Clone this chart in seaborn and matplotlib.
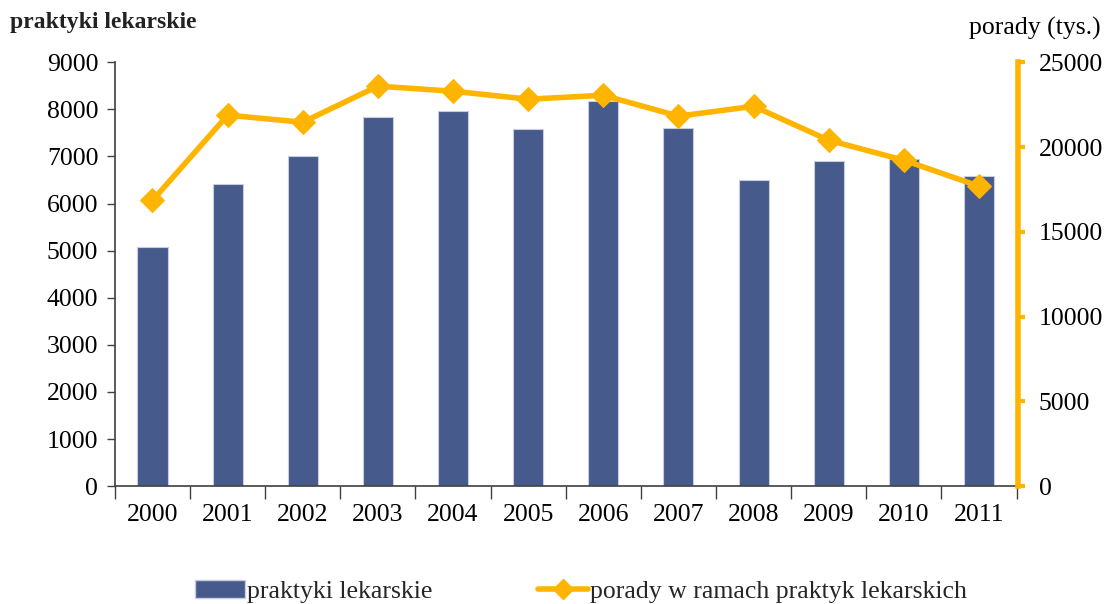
import numpy as np
import pandas as pd
import matplotlib
matplotlib.use("Agg")
import matplotlib.pyplot as plt
import seaborn as sns
from matplotlib.lines import Line2D
from matplotlib.patches import Patch

years = ["2000", "2001", "2002", "2003", "2004", "2005",
         "2006", "2007", "2008", "2009", "2010", "2011"]
praktyki = [5070, 6410, 7000, 7830, 7970, 7590, 8170, 7600, 6500, 6910, 6940, 6590]
porady = [16850, 21880, 21460, 23590, 23290, 22820, 23050, 21820, 22400, 20400, 19220, 17690]

bar_color = "#465A8C"
line_color = "#FFB500"
axis_color = "#404040"
fs = 18.5

sns.set_theme(style="white")
plt.rcParams["font.family"] = ["Liberation Serif", "DejaVu Serif"]

df = pd.DataFrame({"rok": years, "praktyki": praktyki, "porady": porady})

fig = plt.figure(figsize=(11.05, 6.04), dpi=100)
ax = fig.add_axes([0.104, 0.195, 0.816, 0.702])

sns.barplot(data=df, x="rok", y="praktyki", ax=ax, color=bar_color,
            width=0.4, saturation=1, edgecolor="#C8CCE0", linewidth=0.8)

ax.set_xlim(-0.5, len(years) - 0.5)
ax.set_ylim(0, 9000)
ax.set_yticks(np.arange(0, 9001, 1000))
ax.set_xlabel("")
ax.set_ylabel("")
ax.tick_params(axis="y", which="major", left=True, length=6, width=1,
               color=axis_color, labelsize=fs, labelcolor="black", pad=6)
ax.set_xticks(np.arange(len(years)))
ax.set_xticklabels(years)
ax.set_xticks(np.arange(len(years) + 1) - 0.5, minor=True)
ax.tick_params(axis="x", which="major", length=0, labelsize=fs, pad=13,
               labelcolor="black")
ax.tick_params(axis="x", which="minor", bottom=True, length=9, width=1,
               color=axis_color, direction="out")
for side in ("top", "right"):
    ax.spines[side].set_visible(False)
for side in ("left", "bottom"):
    ax.spines[side].set_color(axis_color)
    ax.spines[side].set_linewidth(1.2)

ax2 = ax.twinx()
x_pos = np.arange(len(years))
sns.lineplot(x=x_pos, y=df["porady"], ax=ax2, color=line_color, linewidth=4,
             marker="D", markersize=12, markeredgecolor=line_color)
ax2.set_ylim(0, 25000)
ax2.set_yticks(np.arange(0, 25001, 5000))
ax2.set_ylabel("")
ax2.tick_params(axis="y", right=True, length=5, width=3, color=line_color,
                labelsize=fs, labelcolor="black", pad=10)
for side in ("top", "left", "bottom"):
    ax2.spines[side].set_visible(False)
ax2.spines["right"].set_color(line_color)
ax2.spines["right"].set_linewidth(4)
ax2.spines["right"].set_position(("data", len(years) - 0.5 + 0.02))
ax2.grid(False)
ax.grid(False)

fig.text(0.009, 0.962, "praktyki lekarskie", fontsize=17, fontweight="bold",
         color="#222222", ha="left", va="center")
fig.text(0.996, 0.953, "porady (tys.)", fontsize=fs, color="black",
         ha="right", va="center")

handles = [Patch(facecolor=bar_color, edgecolor="#C8CCE0"),
           Line2D([0], [0], color=line_color, linewidth=4, marker="D",
                  markersize=10)]
fig.legend(handles, ["praktyki lekarskie", "porady w ramach praktyk lekarskich"],
           loc="center", bbox_to_anchor=(0.526, 0.02), ncol=2, frameon=False,
           fontsize=fs, handlelength=1.95, handletextpad=0.08, columnspacing=4.1)

fig.savefig("out.png", dpi=100)
